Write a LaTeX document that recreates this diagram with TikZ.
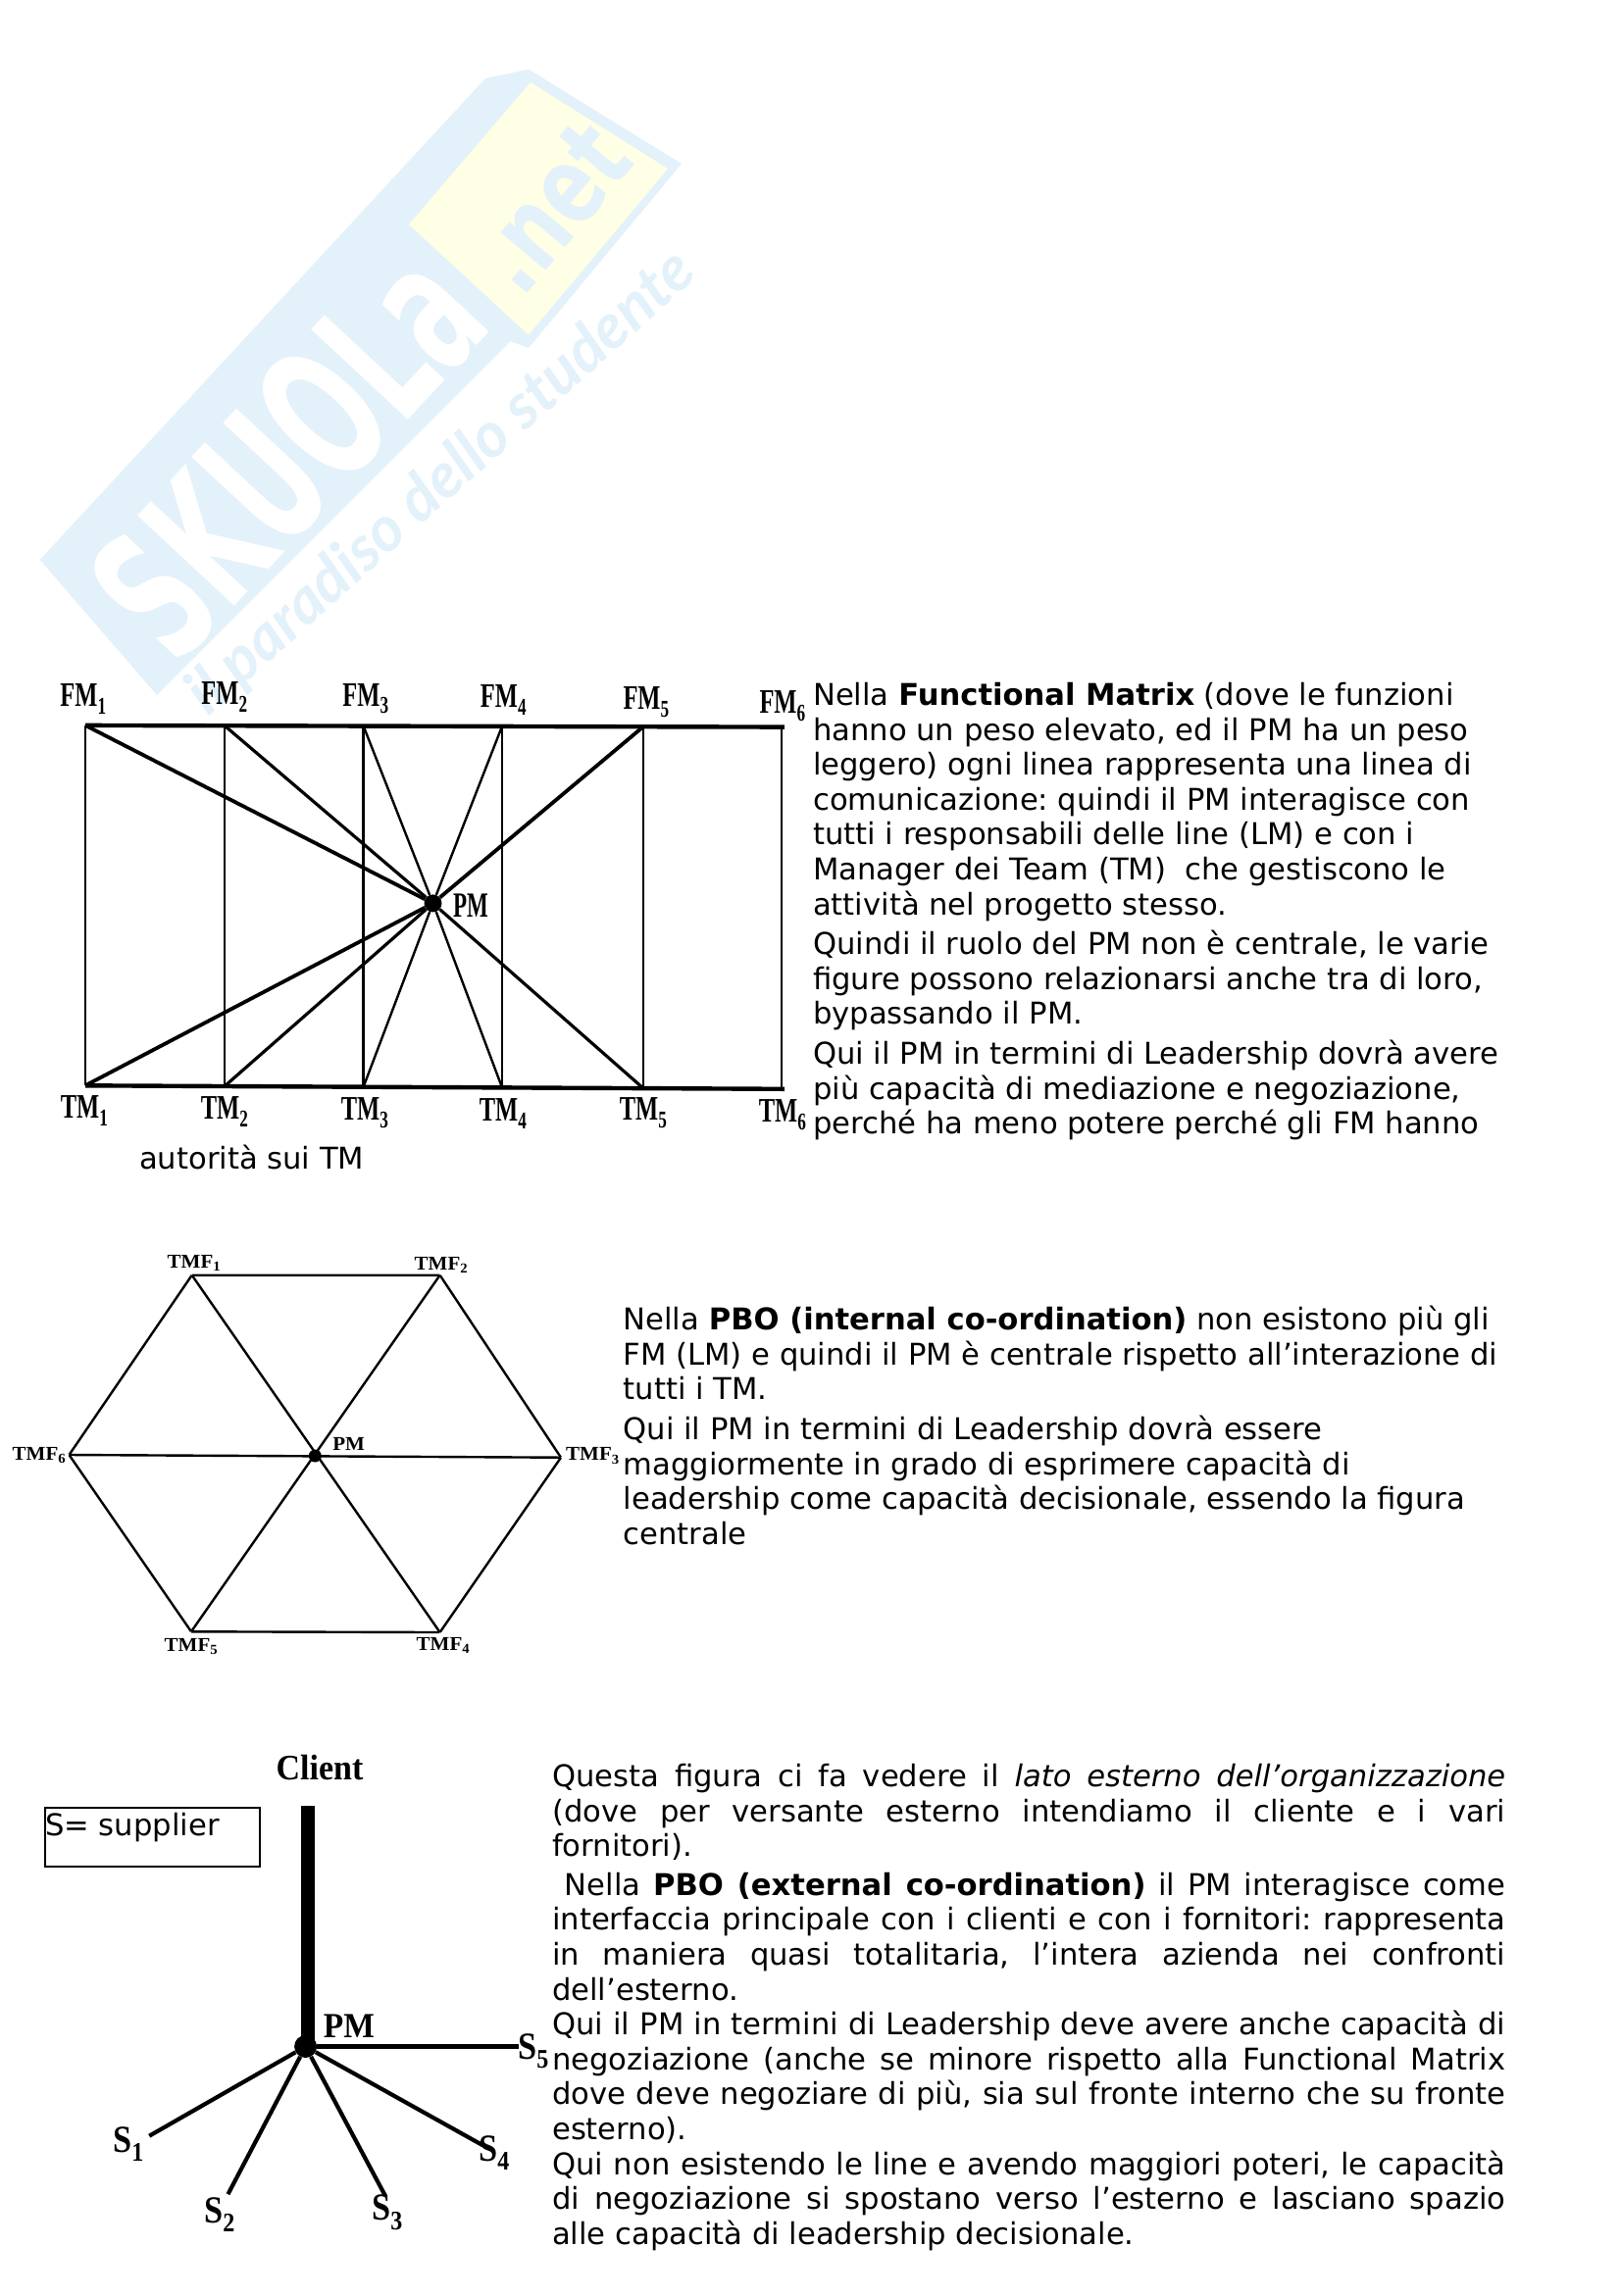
\documentclass[tikz,border=0pt]{standalone}
\usepackage{fontspec}
\setmainfont{DejaVu Sans}
\newfontfamily\labf{Liberation Serif}
\newfontfamily\wmf{DejaVu Sans}
\newfontfamily\wmi{Lato}
\definecolor{wmblue}{HTML}{E3F1FA}
\definecolor{wmyellow}{HTML}{FFFFE6}
\newcommand{\lbl}[3]{\scalebox{#2}[1]{\fontsize{#1}{#1}\selectfont\labf\bfseries #3}}
\newcommand{\FMT}[1]{\lbl{35}{0.7}{#1}}
\newcommand{\TMF}[1]{\lbl{20}{1.05}{#1}}
\newcommand{\SUP}[1]{\lbl{39}{0.88}{#1}}
\newcommand{\J}[1]{\makebox[972pt][s]{#1}}
\frenchspacing
\tikzset{
  pt/.style={inner sep=0pt,minimum size=0pt},
  lab/.style={inner sep=0pt},
  para/.style={inner sep=0pt,anchor=north west,align=left,font=\fontsize{30.6}{35.6}\selectfont},
  thin line/.style={line width=2.4pt,black},
  mid line/.style={line width=3.2pt,black},
  diag line/.style={line width=3.8pt,black},
  star line/.style={line width=4.2pt,black},
  thick line/.style={line width=4.4pt,black},
  dot/.style={circle,fill=black,inner sep=0pt}
}
\begin{document}
\begin{tikzpicture}[x=1pt,y=-1pt]
\path[use as bounding box,fill=white] (0,0) rectangle (1653,2342);
% watermark
\fill[wmblue] (40.7,571) -- (495,80) -- (539,70.7) -- (695,167) -- (539,355) -- (520.5,348) -- (160,709) -- cycle;
\fill[wmyellow] (417,229) -- (541,84) -- (681,172) -- (539,341.6) -- cycle;
\node[lab,rotate=47,text=white] (wmA) at (293,461) {\scalebox{0.58}[1]{\fontsize{185}{185}\selectfont\wmf\bfseries SKUOLa}};
\node[lab,rotate=50,text=wmblue] (wmB) at (562,211) {\scalebox{0.74}[1]{\fontsize{110}{110}\selectfont\wmf\bfseries .net}};
\node[lab,rotate=42,text=wmblue] (wmC) at (450,493) {\fontsize{64}{64}\selectfont\wmi\bfseries\itshape il paradiso dello studente};

% Functional matrix
\node[pt] (F1) at (87,739.9) {}; \node[pt] (F2) at (229,740.2) {}; \node[pt] (F3) at (370.6,740.5) {};
\node[pt] (F4) at (512,740.8) {}; \node[pt] (F5) at (656,741.2) {}; \node[pt] (F6) at (797,741.6) {};
\node[pt] (F7) at (800,741.6) {};
\node[pt] (B1) at (87,1107.3) {}; \node[pt] (B2) at (229,1108) {}; \node[pt] (B3) at (370.6,1108.7) {};
\node[pt] (B4) at (512,1109.4) {}; \node[pt] (B5) at (656,1110.1) {}; \node[pt] (B6) at (797,1110.8) {};
\node[pt] (B7) at (800,1110.8) {};
\node[dot,minimum size=18pt] (PM1) at (441.5,921.4) {};
\foreach \i in {1,...,6} \draw[thin line] (F\i) -- (B\i);
\draw[thick line] (F1) -- (F7);
\draw[thick line] (B1) -- (B7);
\draw[diag line] (F1) -- (PM1);
\draw[mid line] (F2) -- (PM1);
\draw[thin line] (F3) -- (PM1);
\draw[thin line] (F4) -- (PM1);
\draw[diag line] (F5) -- (PM1);
\draw[diag line] (B1) -- (PM1);
\draw[mid line] (B2) -- (PM1);
\draw[thin line] (B3) -- (PM1);
\draw[thin line] (B4) -- (PM1);
\draw[mid line] (B5) -- (PM1);
\node[lab] (lF1) at (85,713) {\FMT{FM\textsubscript{1}}};
\node[lab] (lF2) at (229,711) {\FMT{FM\textsubscript{2}}};
\node[lab] (lF3) at (373,712.5) {\FMT{FM\textsubscript{3}}};
\node[lab] (lF4) at (513.5,714) {\FMT{FM\textsubscript{4}}};
\node[lab] (lF5) at (659,716) {\FMT{FM\textsubscript{5}}};
\node[lab] (lF6) at (798,720) {\FMT{FM\textsubscript{6}}};
\node[lab] (lB1) at (86,1133) {\FMT{TM\textsubscript{1}}};
\node[lab] (lB2) at (229,1134) {\FMT{TM\textsubscript{2}}};
\node[lab] (lB3) at (372,1135) {\FMT{TM\textsubscript{3}}};
\node[lab] (lB4) at (513,1136) {\FMT{TM\textsubscript{4}}};
\node[lab] (lB5) at (656,1135) {\FMT{TM\textsubscript{5}}};
\node[lab] (lB6) at (798,1137) {\FMT{TM\textsubscript{6}}};
\node[lab] (lPM1) at (480,924) {\lbl{36}{0.64}{PM}};

\node[para] (t1) at (829,696) {Nella \textbf{Functional Matrix} (dove le funzioni\\
hanno un peso elevato, ed il PM ha un peso\\
leggero) ogni linea rappresenta una linea di\\
comunicazione: quindi il PM interagisce con\\
tutti i responsabili delle line (LM) e con i\\
Manager dei Team (TM)\ \ che gestiscono le\\
attività nel progetto stesso.\\[5pt]
Quindi il ruolo del PM non è centrale, le varie\\
figure possono relazionarsi anche tra di loro,\\
bypassando il PM.\\[5pt]
Qui il PM in termini di Leadership dovrà avere\\
più capacità di mediazione e negoziazione,\\
perché ha meno potere perché gli FM hanno};
\node[lab,anchor=base west,font=\fontsize{30.6}{35.6}\selectfont] (t1b) at (142,1192) {autorità sui TM};

% Hexagon
\node[pt] (H1) at (195.7,1300.7) {}; \node[pt] (H2) at (448.6,1300.7) {}; \node[pt] (H3) at (572,1486.7) {};
\node[pt] (H4) at (448.6,1665) {}; \node[pt] (H5) at (195,1664.3) {}; \node[pt] (H6) at (70.5,1484) {};
\node[dot,minimum size=13pt] (PM2) at (321.3,1485) {};
\draw[thin line,line join=round] (H1) -- (H2) -- (H3) -- (H4) -- (H5) -- (H6) -- (H1);
\draw[thin line] (H1) -- (H4);
\draw[thin line] (H2) -- (H5);
\draw[thin line] (H3) -- (H6);
\node[lab] (lH1) at (198,1288) {\TMF{TMF\textsubscript{1}}};
\node[lab] (lH2) at (450,1290) {\TMF{TMF\textsubscript{2}}};
\node[lab] (lH3) at (604.5,1485) {\TMF{TMF\textsubscript{3}}};
\node[lab] (lH4) at (452,1678) {\TMF{TMF\textsubscript{4}}};
\node[lab] (lH5) at (195,1679.5) {\TMF{TMF\textsubscript{5}}};
\node[lab] (lH6) at (40,1484.5) {\TMF{TMF\textsubscript{6}}};
\node[lab] (lPM2) at (355.7,1472.7) {\TMF{PM}};

\node[para] (t2) at (635.5,1332) {Nella \textbf{PBO (internal co-ordination)} non esistono più gli\\
FM (LM) e quindi il PM è centrale rispetto all’interazione di\\
tutti i TM.\\[5pt]
Qui il PM in termini di Leadership dovrà essere\\
maggiormente in grado di esprimere capacità di\\
leadership come capacità decisionale, essendo la figura\\
centrale};

% Star
\node[pt] (C0) at (314,1841.6) {};
\node[pt] (C1) at (314,2086.8) {};
\node[dot,minimum size=23pt] (PM3) at (311.6,2087.5) {};
\node[pt] (E1) at (152,2178.8) {};
\node[pt] (E2) at (232.4,2238.3) {};
\node[pt] (E3) at (393,2240) {};
\node[pt] (E4) at (492.6,2188.4) {};
\node[pt] (E5) at (529,2087.5) {};
\draw[line width=14pt,black] (C0) -- (C1);
\foreach \i in {1,...,5} \draw[star line] (PM3) -- (E\i);
\node[lab] (lC) at (326,1803.4) {\lbl{36.5}{0.93}{Client}};
\node[lab] (lPM3) at (356,2066.8) {\lbl{36}{0.93}{PM}};
\node[lab] (lS1) at (131,2187) {\SUP{S\textsubscript{1}}};
\node[lab] (lS2) at (224,2259) {\SUP{S\textsubscript{2}}};
\node[lab] (lS3) at (395,2256.5) {\SUP{S\textsubscript{3}}};
\node[lab] (lS4) at (504,2196) {\SUP{S\textsubscript{4}}};
\node[lab] (lS5) at (544,2092) {\SUP{S\textsubscript{5}}};

\node[draw=black,line width=2pt,minimum width=219pt,minimum height=60pt,inner sep=0pt,anchor=north west] (box) at (45,1843.3) {};
\node[lab,anchor=base west,font=\fontsize{30.6}{35.6}\selectfont] (boxt) at (46,1872.6) {S= supplier};

\node[para] (t3) at (563,1799) {\J{Questa figura ci fa vedere il \textit{lato esterno dell’organizzazione}}\\
\J{(dove per versante esterno intendiamo il cliente e i vari}\\
fornitori).\\[4pt]
\J{\ Nella \textbf{PBO (external co-ordination)} il PM interagisce come}\\
\J{interfaccia principale con i clienti e con i fornitori: rappresenta}\\
\J{in maniera quasi totalitaria, l’intera azienda nei confronti}\\
dell’esterno.\\
\J{Qui il PM in termini di Leadership deve avere anche capacità di}\\
\J{negoziazione (anche se minore rispetto alla Functional Matrix}\\
\J{dove deve negoziare di più, sia sul fronte interno che su fronte}\\
esterno).\\
\J{Qui non esistendo le line e avendo maggiori poteri, le capacità}\\
\J{di negoziazione si spostano verso l’esterno e lasciano spazio}\\
alle capacità di leadership decisionale.};
\end{tikzpicture}
\end{document}
